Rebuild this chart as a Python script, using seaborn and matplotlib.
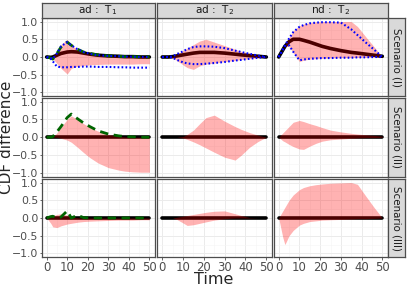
import numpy as np
import pandas as pd
import seaborn as sns
import matplotlib.pyplot as plt

sns.set_theme(style='white')
plt.rcParams['font.family'] = ['DejaVu Sans']

time = [0, 2, 3, 5, 7, 10, 12, 15, 18, 21, 25, 30, 35, 38, 42, 46, 50]

col_labels = [r'ad :  T$_1$', r'ad :  T$_2$', r'nd :  T$_2$']
row_labels = ['Scenario (I)', 'Scenario (II)', 'Scenario (III)']

# scenario I
mean_I_adT1 = [0, -0.01, 0, 0.05, 0.1, 0.14, 0.15, 0.14, 0.11, 0.08, 0.05, 0.03, 0.02, 0.01, 0.01, 0, 0]
mean_I_adT2 = [0, 0, 0, 0.01, 0.03, 0.06, 0.08, 0.11, 0.13, 0.13, 0.13, 0.11, 0.08, 0.06, 0.04, 0.02, 0]
mean_I_ndT2 = [0, 0.2, 0.3, 0.43, 0.5, 0.5, 0.47, 0.42, 0.36, 0.3, 0.24, 0.18, 0.13, 0.11, 0.08, 0.05, 0.02]

hi_I_adT1 = [0, 0, 0.02, 0.15, 0.35, 0.5, 0.35, 0.2, 0.12, 0.08, 0.05, 0.03, 0.02, 0.02, 0.01, 0.01, 0.01]
lo_I_adT1 = [0, -0.02, -0.05, -0.18, -0.32, -0.48, -0.32, -0.26, -0.24, -0.22, -0.21, -0.2, -0.2, -0.2, -0.2, -0.19, -0.19]
hi_I_adT2 = [0, 0, 0, 0.02, 0.08, 0.18, 0.25, 0.35, 0.45, 0.5, 0.42, 0.32, 0.22, 0.16, 0.1, 0.05, 0]
lo_I_adT2 = [0, 0, 0, -0.03, -0.1, -0.22, -0.3, -0.35, -0.25, -0.2, -0.17, -0.13, -0.1, -0.07, -0.05, -0.02, 0]
hi_I_ndT2 = [0, 0.22, 0.34, 0.55, 0.74, 0.88, 0.93, 0.97, 0.99, 1.0, 1.0, 1.0, 1.0, 0.86, 0.57, 0.29, 0]
lo_I_ndT2 = [0, 0.2, 0.3, 0.3, 0.12, -0.13, -0.09, -0.06, -0.05, -0.04, -0.03, -0.02, -0.02, -0.01, -0.01, 0, 0]

blue_hi_adT1 = [0, -0.03, -0.05, 0.1, 0.3, 0.42, 0.33, 0.22, 0.14, 0.09, 0.05, 0.03, 0.02, 0.01, 0.01, 0, 0]
blue_lo_adT1 = [0, -0.05, -0.12, -0.27, -0.29, -0.29, -0.28, -0.28, -0.27, -0.27, -0.28, -0.28, -0.29, -0.29, -0.3, -0.3, -0.3]
blue_hi_adT2 = [0, 0, 0, 0.02, 0.08, 0.16, 0.22, 0.28, 0.3, 0.3, 0.29, 0.25, 0.18, 0.14, 0.09, 0.04, 0]
blue_lo_adT2 = [0, 0, 0, -0.02, -0.08, -0.15, -0.18, -0.2, -0.2, -0.19, -0.17, -0.14, -0.1, -0.08, -0.05, -0.02, 0]
blue_hi_ndT2 = [0, 0.22, 0.33, 0.52, 0.7, 0.85, 0.9, 0.95, 0.97, 0.98, 0.98, 0.97, 0.78, 0.62, 0.41, 0.21, 0]
blue_lo_ndT2 = [0, 0.2, 0.3, 0.33, 0.15, -0.09, -0.07, -0.05, -0.04, -0.03, -0.03, -0.02, -0.02, -0.01, -0.01, 0, 0]

green_I = [0, -0.03, -0.06, 0.1, 0.28, 0.42, 0.33, 0.22, 0.14, 0.1, 0.06, 0.03, 0.02, 0.01, 0.01, 0, 0]

# scenario II
hi_II_adT1 = [0, 0, 0, 0.12, 0.28, 0.5, 0.6, 0.5, 0.38, 0.28, 0.17, 0.08, 0.03, 0.01, 0, 0, 0]
lo_II_adT1 = [0, 0, 0, 0, -0.03, -0.08, -0.14, -0.28, -0.43, -0.57, -0.72, -0.85, -0.92, -0.95, -0.97, -0.98, -0.98]
hi_II_adT2 = [0, 0, 0, 0, 0, 0.02, 0.08, 0.2, 0.38, 0.55, 0.62, 0.45, 0.3, 0.22, 0.13, 0.06, 0]
lo_II_adT2 = [0, 0, 0, 0, 0, -0.02, -0.06, -0.13, -0.21, -0.3, -0.42, -0.56, -0.64, -0.5, -0.28, -0.12, 0]
hi_II_ndT2 = [0, 0.12, 0.18, 0.3, 0.42, 0.47, 0.44, 0.38, 0.33, 0.27, 0.2, 0.15, 0.11, 0.09, 0.07, 0.05, 0.03]
lo_II_ndT2 = [0, -0.1, -0.13, -0.2, -0.26, -0.33, -0.34, -0.25, -0.17, -0.11, -0.07, -0.05, -0.03, -0.02, -0.01, -0.01, 0]
green_II = [0, 0, 0.02, 0.15, 0.3, 0.55, 0.65, 0.52, 0.4, 0.3, 0.18, 0.09, 0.04, 0.02, 0.01, 0, 0]

# scenario III
hi_III_adT1 = [0, 0.03, 0.06, 0.1, 0.12, 0.08, 0.03, 0.01, 0, 0, 0, 0, 0, 0, 0, 0, 0]
lo_III_adT1 = [0, -0.15, -0.25, -0.27, -0.22, -0.17, -0.15, -0.12, -0.1, -0.09, -0.08, -0.07, -0.06, -0.06, -0.06, -0.05, -0.05]
hi_III_adT2 = [0, 0, 0, 0, 0.02, 0.05, 0.07, 0.1, 0.13, 0.16, 0.19, 0.2, 0.12, 0.07, 0.01, 0, 0]
lo_III_adT2 = [0, 0, 0, 0, -0.04, -0.14, -0.21, -0.19, -0.15, -0.11, -0.06, -0.02, 0, 0, 0, 0, 0]
hi_III_ndT2 = [0, 0.2, 0.3, 0.5, 0.65, 0.8, 0.86, 0.91, 0.94, 0.96, 0.98, 0.99, 1.0, 0.95, 0.62, 0.3, 0]
lo_III_ndT2 = [0, -0.55, -0.75, -0.5, -0.35, -0.2, -0.15, -0.1, -0.08, -0.06, -0.05, -0.04, -0.03, -0.02, -0.02, -0.01, 0]
green_III = [0, 0.04, 0.05, 0, 0.03, 0.2, 0, 0.08, 0.01, 0, 0, 0, 0, 0, 0, 0, 0]

zero = [0] * len(time)

means = [[mean_I_adT1, mean_I_adT2, mean_I_ndT2], [zero, zero, zero], [zero, zero, zero]]
bands = [[(lo_I_adT1, hi_I_adT1), (lo_I_adT2, hi_I_adT2), (lo_I_ndT2, hi_I_ndT2)],
         [(lo_II_adT1, hi_II_adT1), (lo_II_adT2, hi_II_adT2), (lo_II_ndT2, hi_II_ndT2)],
         [(lo_III_adT1, hi_III_adT1), (lo_III_adT2, hi_III_adT2), (lo_III_ndT2, hi_III_ndT2)]]
blues = [(blue_lo_adT1, blue_hi_adT1), (blue_lo_adT2, blue_hi_adT2), (blue_lo_ndT2, blue_hi_ndT2)]
greens = [green_I, green_II, green_III]

W, H = 409, 289
fig = plt.figure(figsize=(W / 100, H / 100), dpi=100)
fig.patch.set_facecolor('white')

def px(x0, y0, x1, y1):
    return [x0 / W, 1 - y1 / H, (x1 - x0) / W, (y1 - y0) / H]

border = '#4d4d4d'
col_x = [(41.5, 154.5), (157, 271.5), (273.5, 387.5)]
row_y = [(18, 96), (98, 176.5), (179, 257)]

for r in range(3):
    for c in range(3):
        ax = fig.add_axes(px(col_x[c][0], row_y[r][0], col_x[c][1], row_y[r][1]))
        ax.set_facecolor('white')
        sns.lineplot(x=time, y=means[r][c], ax=ax, color='black', lw=2.6,
                     solid_capstyle='round', zorder=2)
        lo, hi = bands[r][c]
        ax.fill_between(time, lo, hi, color='red', alpha=0.3, lw=0, zorder=3)
        if c == 0:
            sns.lineplot(x=time, y=greens[r], ax=ax, color='darkgreen', lw=2.0,
                         linestyle=(0, (3, 2)), zorder=4)
        if r == 0:
            for b in blues[c]:
                sns.lineplot(x=time, y=b, ax=ax, color='blue', lw=1.5,
                             linestyle=(0, (0.8, 1.1)), zorder=5)
        ax.set_xlim(-2.5, 52.5)
        ax.set_ylim(-1.1, 1.1)
        ax.set_xticks([0, 10, 20, 30, 40, 50])
        ax.set_xticks([5, 15, 25, 35, 45], minor=True)
        ax.set_yticks([-1, -0.5, 0, 0.5, 1])
        ax.set_yticks([-0.75, -0.25, 0.25, 0.75], minor=True)
        ax.grid(which='major', color='#ebebeb', lw=0.7)
        ax.grid(which='minor', color='#f5f5f5', lw=0.4)
        ax.set_axisbelow(True)
        for s in ax.spines.values():
            s.set_color(border)
            s.set_linewidth(0.9)
        ax.tick_params(which='major', length=1.8, width=0.6, color=border,
                       labelsize=7.8, labelcolor='#4d4d4d', pad=0.4,
                       left=(c == 0), bottom=(r == 2))
        ax.tick_params(axis='x', labelsize=8.4, pad=0.8)
        ax.tick_params(which='minor', length=0)
        ax.set_xlabel('')
        ax.set_ylabel('')
        if c == 0:
            ax.set_yticklabels(['\u22121.0', '\u22120.5', '0.0', '0.5', '1.0'])
        else:
            ax.set_yticklabels([])
        if r != 2:
            ax.set_xticklabels([])

# strips on top
for c in range(3):
    sax = fig.add_axes(px(col_x[c][0], 3, col_x[c][1], 18))
    sax.set_facecolor('#d9d9d9')
    sax.set_xticks([])
    sax.set_yticks([])
    for s in sax.spines.values():
        s.set_color(border)
        s.set_linewidth(0.9)
    sax.text(0.5, 0.5, col_labels[c], ha='center', va='center', fontsize=7.6,
             color='#1a1a1a', transform=sax.transAxes)

# strips on the right
for r in range(3):
    sax = fig.add_axes(px(388, row_y[r][0], 405, row_y[r][1]))
    sax.set_facecolor('#d9d9d9')
    sax.set_xticks([])
    sax.set_yticks([])
    for s in sax.spines.values():
        s.set_color(border)
        s.set_linewidth(0.9)
    sax.text(0.5, 0.5, row_labels[r], ha='center', va='center', fontsize=7.4,
             rotation=-90, color='#1a1a1a', transform=sax.transAxes)

fig.text(214 / W, 1 - 280 / H, 'Time', ha='center', va='center', fontsize=11.5)
fig.text(6.5 / W, 1 - 137 / H, 'CDF difference', ha='center', va='center',
         fontsize=11, rotation=90)

fig.savefig('out.png', dpi=100, facecolor='white')
